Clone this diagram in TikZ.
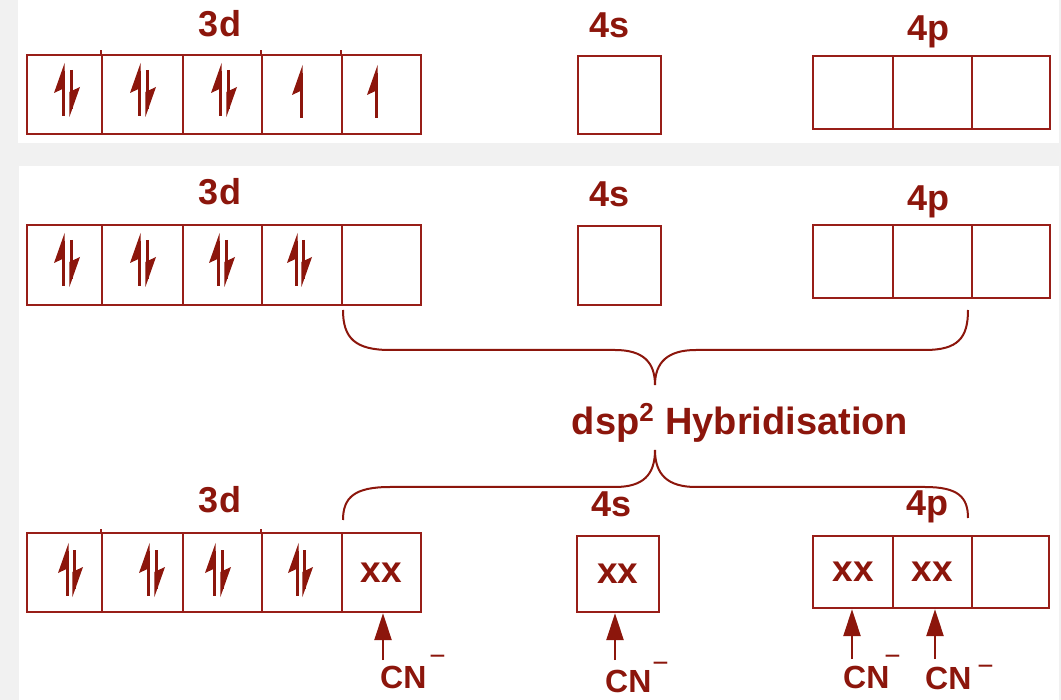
\documentclass[tikz,border=0pt]{standalone}
\usepackage{fontspec}
\setmainfont{Liberation Sans}
\usetikzlibrary{arrows.meta}

\definecolor{ink}{RGB}{140,22,12}
\definecolor{rulec}{RGB}{152,30,24}
\definecolor{page}{RGB}{241,241,241}

% one orbital box: name, x1, y1, x2, y2, content
\newcommand\orbbox[6]{%
  \node[orb, minimum width={(#4-#2)*1pt}, minimum height={(#5-#3)*1pt}]
    (#1) at ({(#2+#4)/2},{(#3+#5)/2}) {#6};}

% cyanide label with a raised minus sign: gap, raise
\newcommand\cnion[2]{CN\hspace*{#1pt}\raisebox{#2pt}{\fontsize{28}{28}\selectfont\mdseries −}}

\begin{document}
\begin{tikzpicture}[x=1pt,y=-1pt,
  orb/.style={draw=rulec, line width=2.4pt, rectangle, inner sep=0pt,
    text=ink, font=\fontsize{37}{37}\selectfont\bfseries},
  shell/.style={text=ink, font=\fontsize{36}{36}\selectfont\bfseries,
    inner sep=0pt, anchor=base},
  ligand/.style={text=ink, font=\fontsize{32}{32}\selectfont\bfseries,
    inner sep=0pt, anchor=base west},
  tick/.style={draw=rulec, line width=2.4pt},
  brace/.style={draw=ink, line width=2pt},
  cnarrow/.style={draw=ink, line width=2.6pt,
    -{Triangle[length=27pt,width=17pt]}},
  upspin/.pic={
    \fill[ink] (1.6,0) -- (-9,30) -- (1.6,25) -- cycle;
    \draw[ink, line width=3pt] (0,8) -- (0,53);
  },
  downspin/.pic={
    \fill[ink] (-1.6,47) -- (9,17) -- (-1.6,22) -- cycle;
    \draw[ink, line width=3pt] (0,0) -- (0,39);
  }
]
\useasboundingbox (0,0) rectangle (1061,700);

% page and the two white panels
\fill[page] (0,0) rectangle (1061,700);
\fill[white] (18,0) rectangle (1059,143);
\fill[white] (19,166) rectangle (1059,700);

% ---------- ground state ----------
\node[shell] (l1d) at (220,37) {3d};
\node[shell] (l1s) at (610,38) {4s};
\node[shell] (l1p) at (928,41) {4p};

\orbbox{a1}{27}{55}{102}{134}{}
\orbbox{a2}{102}{55}{183}{134}{}
\orbbox{a3}{183}{55}{262}{134}{}
\orbbox{a4}{262}{55}{342}{134}{}
\orbbox{a5}{342}{55}{421}{134}{}
\draw[tick] (a2.north west) -- ++(0,-4);
\draw[tick] (a4.north west) -- ++(0,-4);
\draw[tick] (a5.north west) -- ++(0,-4);
\orbbox{as}{578}{56}{661}{134}{}
\orbbox{ap1}{813}{56}{893}{129}{}
\orbbox{ap2}{893}{56}{972}{129}{}
\orbbox{ap3}{972}{56}{1050}{129}{}

\pic at (63,63) {upspin};  \pic at (71,70) {downspin};
\pic at (139,63) {upspin}; \pic at (147,70) {downspin};
\pic at (220,63) {upspin}; \pic at (228,70) {downspin};
\pic at (301,65) {upspin};
\pic at (376,65) {upspin};

% ---------- paired state ----------
\node[shell] (l2d) at (220,205) {3d};
\node[shell] (l2s) at (610,207) {4s};
\node[shell] (l2p) at (928,211) {4p};

\orbbox{b1}{27}{225}{102}{305}{}
\orbbox{b2}{102}{225}{183}{305}{}
\orbbox{b3}{183}{225}{262}{305}{}
\orbbox{b4}{262}{225}{342}{305}{}
\orbbox{b5}{342}{225}{421}{305}{}
\orbbox{bs}{578}{226}{661}{305}{}
\orbbox{bp1}{813}{225}{893}{298}{}
\orbbox{bp2}{893}{225}{972}{298}{}
\orbbox{bp3}{972}{225}{1050}{298}{}

\pic at (63,233) {upspin};  \pic at (71,240) {downspin};
\pic at (139,233) {upspin}; \pic at (147,240) {downspin};
\pic at (218,233) {upspin}; \pic at (226,240) {downspin};
\pic at (296,233) {upspin}; \pic at (303,240) {downspin};

% ---------- braces and hybridisation label ----------
\coordinate (bl) at (343,310);
\coordinate (br) at (968,310);
\coordinate (tip1) at (655,385);
\draw[brace] (bl) .. controls (343,338) and (355,350) .. (390,350)
  -- (615,350) .. controls (643,350) and (655,362) .. (tip1)
  .. controls (655,362) and (668,350) .. (696,350)
  -- (925,350) .. controls (958,350) and (968,338) .. (br);

\node[text=ink, font=\fontsize{38}{38}\selectfont\bfseries, inner sep=0pt,
  anchor=base] (hyb) at (740,435)
  {dsp\raisebox{13pt}{\fontsize{26}{26}\selectfont 2}\hspace{1pt} Hybridisation};

\coordinate (cl) at (343,520);
\coordinate (cr) at (968,518);
\coordinate (tip2) at (655,450);
\draw[brace] (cl) .. controls (343,497) and (355,487) .. (390,487)
  -- (615,487) .. controls (643,487) and (655,475) .. (tip2)
  .. controls (655,475) and (668,487) .. (696,487)
  -- (925,487) .. controls (958,487) and (968,497) .. (cr);

% ---------- hybridised state with CN- ligands ----------
\node[shell] (l3d) at (220,513) {3d};
\node[shell] (l3s) at (612,517) {4s};
\node[shell] (l3p) at (927,516) {4p};

\orbbox{c1}{27}{533}{102}{612}{}
\orbbox{c2}{102}{533}{183}{612}{}
\orbbox{c3}{183}{533}{262}{612}{}
\orbbox{c4}{262}{533}{342}{612}{}
\orbbox{c5}{342}{533}{421}{612}{xx}
\draw[tick] (c2.north west) -- ++(0,-3);
\draw[tick] (c4.north west) -- ++(0,-3);
\orbbox{cs}{577}{536}{659}{612}{xx}
\orbbox{cp1}{813}{536}{893}{608}{xx}
\orbbox{cp2}{893}{536}{972}{608}{xx}
\orbbox{cp3}{972}{536}{1049}{608}{}

\pic at (67,543) {upspin};  \pic at (74,550) {downspin};
\pic at (148,543) {upspin}; \pic at (156,550) {downspin};
\pic at (214,543) {upspin}; \pic at (222,550) {downspin};
\pic at (297,543) {upspin}; \pic at (304,550) {downspin};

\node[ligand] (cn1) at (380,688) {\cnion{3}{23}};
\node[ligand] (cn2) at (605,692) {\cnion{1}{20}};
\node[ligand] (cn3) at (843,688) {\cnion{-5}{23}};
\node[ligand] (cn4) at (925,689) {\cnion{6}{14}};

\coordinate (t1) at (383,660);
\coordinate (t2) at (615,660);
\coordinate (t3) at (852,659);
\coordinate (t4) at (935,659);
\draw[cnarrow] (t1) -- (t1 |- c5.south);
\draw[cnarrow] (t2) -- (t2 |- cs.south);
\draw[cnarrow] (t3) -- (t3 |- cp1.south);
\draw[cnarrow] (t4) -- (t4 |- cp2.south);
\end{tikzpicture}
\end{document}
